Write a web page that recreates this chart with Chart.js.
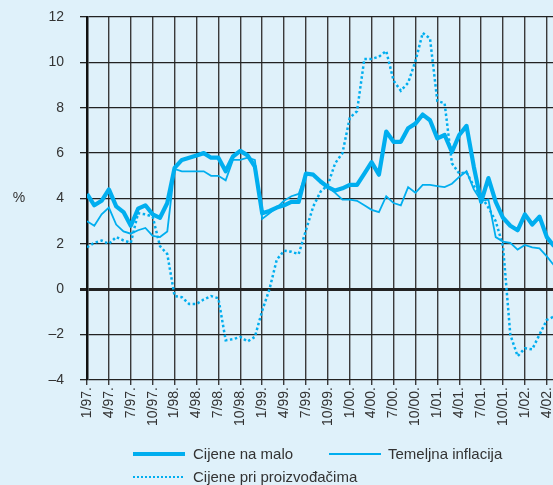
<!DOCTYPE html>
<html>
<head>
<meta charset="utf-8">
<script src="https://cdn.jsdelivr.net/npm/chart.js@4.4.1/dist/chart.umd.min.js"></script>
<style>
  body { margin: 0; background: #dff1fa; font-family: "Liberation Sans", Arial, sans-serif; }
  #wrap { position: relative; width: 553px; height: 485px; overflow: hidden; }
  .leg { position: absolute; font-size: 15px; color: #333; line-height: 18px; white-space: nowrap; }
  .sample { position: absolute; width: 52px; }
</style>
</head>
<body>
<div id="wrap">
  <canvas id="chart"></canvas>
  <div class="sample" style="left:133px; top:452px; height:4px; background:#00aeef;"></div>
  <div class="leg" style="left:193px; top:445px;">Cijene na malo</div>
  <div class="sample" style="left:329px; top:453px; height:2px; background:#00aeef;"></div>
  <div class="leg" style="left:388px; top:445px;">Temeljna inflacija</div>
  <div class="sample" style="left:133px; top:476px; height:2px; width:50px; background:repeating-linear-gradient(to right, #00aeef 0 2px, transparent 2px 4px);"></div>
  <div class="leg" style="left:193px; top:468px;">Cijene pri proizvođačima</div>
</div>
<script>
// quarterly tick labels, months 1/97 .. 4/02
const tickLabels = ['1/97.','4/97.','7/97.','10/97.','1/98.','4/98.','7/98.','10/98.','1/99.','4/99.','7/99.','10/99.',
                    '1/00.','4/00.','7/00.','10/00.','1/01.','4/01.','7/01.','10/01.','1/02.','4/02.'];

// monthly values 1/97 .. 5/02, %
const retail = [4.2, 3.7, 3.9, 4.4, 3.65, 3.4, 2.8, 3.55, 3.7, 3.3, 3.15, 3.8,
                5.35, 5.7, 5.8, 5.9, 6.0, 5.8, 5.8, 5.2, 5.85, 6.1, 5.9, 5.4,
                3.35, 3.45, 3.6, 3.7, 3.85, 3.85, 5.1, 5.05, 4.75, 4.5, 4.35, 4.45,
                4.6, 4.6, 5.1, 5.6, 5.05, 6.95, 6.5, 6.5, 7.1, 7.3, 7.7, 7.45,
                6.65, 6.8, 6.05, 6.8, 7.2, 5.4, 3.85, 4.9, 3.85, 3.15, 2.8, 2.6,
                3.3, 2.85, 3.2, 2.3, 1.9];

const core = [3.0, 2.8, 3.3, 3.6, 2.85, 2.55, 2.45, 2.6, 2.7, 2.35, 2.3, 2.55,
              5.3, 5.2, 5.2, 5.2, 5.2, 5.0, 5.0, 4.8, 5.7, 5.7, 5.8, 5.7,
              3.1, 3.35, 3.6, 3.9, 4.1, 4.2, 5.1, 5.05, 4.7, 4.5, 4.25, 3.95,
              3.95, 3.9, 3.7, 3.5, 3.4, 4.1, 3.8, 3.7, 4.5, 4.25, 4.6, 4.6,
              4.55, 4.5, 4.65, 4.95, 5.2, 4.4, 3.9, 3.95, 2.3, 2.1, 2.05, 1.75,
              1.95, 1.85, 1.8, 1.45, 1.05];

const producer = [1.85, 2.05, 2.15, 2.0, 2.3, 2.15, 2.05, 3.35, 3.3, 3.2, 1.9, 1.55,
                  -0.3, -0.35, -0.65, -0.65, -0.45, -0.3, -0.4, -2.25, -2.2, -2.1, -2.3, -2.1,
                  -0.95, 0.0, 1.3, 1.7, 1.65, 1.55, 2.6, 3.65, 4.3, 4.6, 5.55, 6.0,
                  7.55, 7.85, 10.15, 10.15, 10.25, 10.5, 9.2, 8.75, 9.1, 10.05, 11.3, 11.05,
                  8.3, 8.2, 5.55, 5.1, 5.15, 4.55, 4.1, 3.6, 3.0, 1.9, -2.0, -2.95,
                  -2.6, -2.65, -2.0, -1.35, -1.2];

const lineColor = '#00aeef';
const toPoints = arr => arr.map((v, i) => ({x: i, y: v}));

// "%" label left of the y axis
const percentLabel = {
  id: 'percentLabel',
  afterDraw(chart) {
    const ctx = chart.ctx;
    const y = chart.scales.y.getPixelForValue(4);
    ctx.save();
    ctx.font = '14px "Liberation Sans", Arial, sans-serif';
    ctx.fillStyle = '#333';
    ctx.textAlign = 'center';
    ctx.textBaseline = 'middle';
    ctx.fillText('%', 19, y);
    ctx.restore();
  }
};

new Chart(document.getElementById('chart'), {
  type: 'line',
  data: {
    datasets: [
      {
        label: 'Cijene pri proizvođačima',
        data: toPoints(producer),
        borderColor: lineColor,
        borderWidth: 2.5,
        borderDash: [2.5, 2.5],
        pointRadius: 0,
        tension: 0
      },
      {
        label: 'Temeljna inflacija',
        data: toPoints(core),
        borderColor: lineColor,
        borderWidth: 1.8,
        pointRadius: 0,
        tension: 0
      },
      {
        label: 'Cijene na malo',
        data: toPoints(retail),
        borderColor: lineColor,
        borderWidth: 4.2,
        borderJoinStyle: 'round',
        pointRadius: 0,
        tension: 0
      }
    ]
  },
  plugins: [percentLabel],
  options: {
    responsive: true,
    maintainAspectRatio: false,
    animation: false,
    layout: { padding: { top: 17, right: 0, bottom: 0, left: 0 } },
    plugins: {
      legend: { display: false },
      tooltip: { enabled: false }
    },
    scales: {
      x: {
        type: 'linear',
        min: 0,
        max: 63.85,
        afterFit(scale) {
          scale.height = 105;
          scale.paddingLeft = 0;
          scale.paddingRight = 0;
        },
        afterBuildTicks(scale) { scale.ticks = scale.ticks.filter(t => t.value % 3 === 0 && t.value <= 63); },
        ticks: {
          stepSize: 3,
          includeBounds: false,
          autoSkip: false,
          minRotation: 90,
          maxRotation: 90,
          padding: 2,
          color: '#333',
          font: { size: 14, family: '"Liberation Sans", Arial, sans-serif' },
          callback: v => tickLabels[v / 3]
        },
        grid: {
          color: '#3a3a3a',
          lineWidth: 1.4,
          tickLength: 5
        },
        border: { display: false }
      },
      y: {
        min: -4,
        max: 12,
        afterFit(scale) {
          scale.width = 87;
          scale.paddingTop = 0;
          scale.paddingBottom = 0;
        },
        ticks: {
          stepSize: 2,
          padding: 16,
          color: '#333',
          font: { size: 14, family: '"Liberation Sans", Arial, sans-serif' },
          callback: v => v < 0 ? '\u2013' + Math.abs(v) : v
        },
        grid: {
          color: '#222',
          lineWidth: ctx => ctx.tick && ctx.tick.value === 0 ? 3 : 1.3,
          tickLength: 7
        },
        border: { color: '#111', width: 2.5 }
      }
    }
  }
});
</script>
</body>
</html>
